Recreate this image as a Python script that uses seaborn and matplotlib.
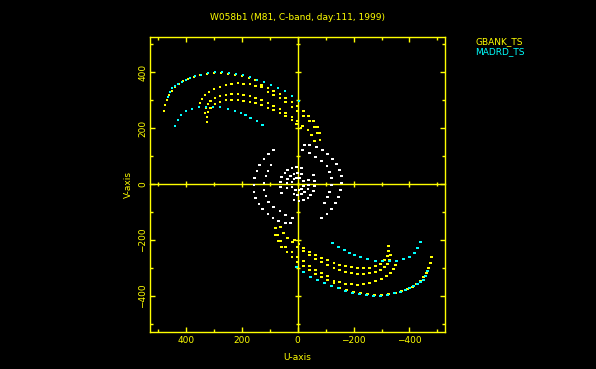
import numpy as np
import pandas as pd
import matplotlib
matplotlib.use("Agg")
import matplotlib.pyplot as plt
import seaborn as sns

# uv tracks (kilo-lambda), one half of each track; conjugate points added below
# GBANK_TS baselines (yellow)
gb1_u = [478, 475, 468, 461, 450, 439, 425, 411, 393, 371, 350, 325, 300, 275, 250, 225, 200, 175, 150,
         129, 107, 86, 64, 43, 21, 0, -21, -39, -57, -71, -79]
gb1_v = [261, 282, 300, 318, 332, 346, 357, 368, 375, 382, 389, 393, 396, 396, 393, 389, 386, 378, 371,
         353, 343, 332, 321, 307, 293, 278, 261, 243, 225, 203, 182]
gb2_u = [353, 350, 343, 332, 318, 300, 278, 257, 236, 214, 193, 171, 150, 129, 107, 86, 64, 43, 21, 0,
         -21, -43, -61, -71, -79]
gb2_v = [275, 289, 303, 318, 328, 339, 346, 353, 357, 361, 357, 357, 350, 346, 328, 318, 307, 293, 275, 261,
         243, 225, 203, 182, 157]
gb3_u = [332, 328, 321, 311, 296, 278, 257, 236, 214, 193, 171, 150, 129, 107, 86, 64, 43, 21, 0,
         -18, -36, -50, -61]
gb3_v = [253, 271, 286, 296, 307, 314, 318, 321, 321, 318, 314, 307, 300, 289, 278, 268, 253, 239, 225,
         207, 193, 175, 154]
gb4_u = [325, 325, 321, 311, 296, 278, 257, 236, 214, 193, 171, 150, 129, 107, 86, 64, 43, 21, 4, -11]
gb4_v = [221, 239, 257, 271, 286, 293, 300, 300, 300, 296, 293, 289, 282, 271, 264, 253, 243, 228, 214, 200]

# MADRD_TS baselines (cyan)
md1_u = [464, 457, 450, 439, 428, 414, 400, 386, 368, 346, 321, 296, 271, 246, 221, 196, 171, 146,
         121, 96, 71, 46, 21, -4]
md1_v = [311, 328, 343, 350, 357, 364, 371, 378, 386, 389, 396, 400, 400, 396, 393, 389, 382, 371,
         364, 353, 343, 332, 314, 296]
md2_u = [439, 428, 418, 400, 378, 353, 328, 303, 278, 250, 225, 203, 186, 168, 146, 125]
md2_v = [207, 228, 246, 261, 268, 275, 275, 275, 275, 268, 261, 253, 246, 236, 225, 211]

# short baselines (white)
ws1_u = [86, 104, 121, 136, 146, 154, 157, 157, 150, 139, 125, 107, 89, 68, 43, 25]
ws1_v = [121, 107, 89, 68, 46, 21, -4, -29, -50, -71, -89, -107, -121, -132, -139, -139]
ws2_u = [96, 107, 114, 121, 121, 114, 104, 86, 64, 43, 18]
ws2_v = [68, 46, 29, 4, -21, -43, -64, -82, -96, -111, -121]
ws3_u = [57, 61, 61, 57, 46, 36, 21, 4, -14]
ws3_v = [-32, -11, 7, 25, 39, 50, 57, 61, 57]
ws4_u = [39, 39, 36, 25, 14, 0, -14]
ws4_v = [-14, 4, 18, 29, 36, 39, 36]
ws5_u = [21, 21, 14, 4, -7]
ws5_v = [-11, 7, 18, 21, 21]

tracks = [
    ("GBANK_TS", gb1_u, gb1_v), ("GBANK_TS", gb2_u, gb2_v),
    ("GBANK_TS", gb3_u, gb3_v), ("GBANK_TS", gb4_u, gb4_v),
    ("MADRD_TS", md1_u, md1_v), ("MADRD_TS", md2_u, md2_v),
    ("short", ws1_u, ws1_v), ("short", ws2_u, ws2_v), ("short", ws3_u, ws3_v),
    ("short", ws4_u, ws4_v), ("short", ws5_u, ws5_v),
]

rows = []
for name, uu, vv in tracks:
    for u, v in zip(uu, vv):
        rows.append((name, u, v))
        rows.append((name, -u, -v))  # conjugate point
df = pd.DataFrame(rows, columns=["station", "u", "v"])

yel = "#ffff00"
sns.set_style("ticks")
plt.rcParams.update({
    "figure.facecolor": "black", "axes.facecolor": "black",
    "axes.edgecolor": yel, "axes.labelcolor": yel, "text.color": yel,
    "xtick.color": yel, "ytick.color": yel, "font.size": 6.5,
})
plt.rcParams["font.family"] = ["DejaVu Sans"]

fig = plt.figure(figsize=(5.96, 3.69), dpi=100)
pos = [150 / 596, 1 - 331.5 / 369, 295 / 596, 294.5 / 369]
ax = fig.add_axes(pos)

pal = {"GBANK_TS": yel, "MADRD_TS": "#00ffff", "short": "white"}
sns.scatterplot(data=df, x="u", y="v", hue="station", palette=pal, marker="s",
                s=3, linewidth=0, legend=False, ax=ax, zorder=3)

xlim = (528, -527)
ylim = (-527, 525)
ax.set_xlim(*xlim)
ax.set_ylim(*ylim)
ax.set_xticks([400, 200, 0, -200, -400])
ax.set_yticks([-400, -200, 0, 200, 400])
ax.set_xticks(np.arange(-500, 501, 100), minor=True)
ax.set_yticks(np.arange(-500, 501, 100), minor=True)
ax.tick_params(which="both", direction="in", top=True, right=True, width=1)
ax.tick_params(which="major", length=3.5)
ax.tick_params(which="minor", length=2)
ax.tick_params(axis="x", pad=3)
ax.tick_params(axis="y", labelrotation=90, pad=2)
for lab in ax.get_yticklabels():
    lab.set_va("center")
for sp in ax.spines.values():
    sp.set_linewidth(1)
ax.set_xlabel("U-axis", labelpad=6)
ax.set_ylabel("V-axis", labelpad=4)
ax.set_title("W058b1 (M81, C-band, day:111, 1999)", fontsize=6.5, pad=12.5)

# centre axes through the origin
ax2 = fig.add_axes(pos, facecolor="none")
ax2.set_xlim(*xlim)
ax2.set_ylim(*ylim)
ax2.spines["left"].set_position(("data", 0))
ax2.spines["bottom"].set_position(("data", 0))
ax2.spines["top"].set_visible(False)
ax2.spines["right"].set_visible(False)
ax2.spines["left"].set_linewidth(1)
ax2.spines["bottom"].set_linewidth(1)
ax2.set_xticks([400, 200, -200, -400])
ax2.set_yticks([-400, -200, 200, 400])
ax2.set_xticks(np.arange(-500, 501, 100), minor=True)
ax2.set_yticks(np.arange(-500, 501, 100), minor=True)
ax2.tick_params(which="both", direction="inout", labelleft=False, labelbottom=False, width=1)
ax2.tick_params(which="major", length=5)
ax2.tick_params(which="minor", length=3)
ax2.set_zorder(ax.get_zorder() - 1)
ax.patch.set_alpha(0)
fig.patch.set_facecolor("black")

fig.text(475 / 596, 1 - 42 / 369, "GBANK_TS", color=yel, fontsize=6.5, va="center")
fig.text(475 / 596, 1 - 52 / 369, "MADRD_TS", color="#00ffff", fontsize=6.5, va="center")

fig.savefig("out.png", dpi=100, facecolor="black")
